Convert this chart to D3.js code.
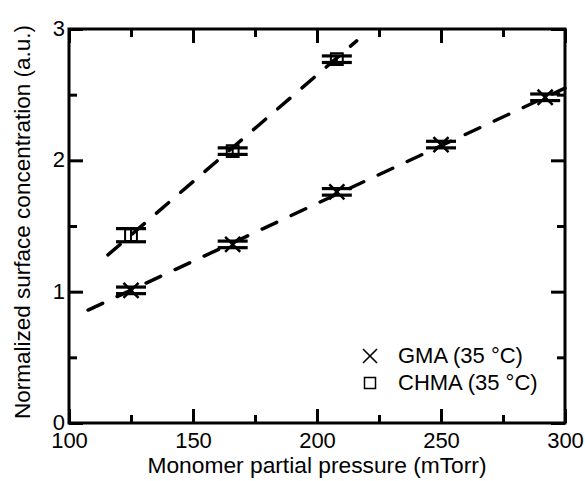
<!DOCTYPE html>
<html>
<head>
<meta charset="utf-8">
<script src="https://cdn.jsdelivr.net/npm/d3@7"></script>
<style>
  body { margin: 0; background: #fff; }
  text { font-family: "Liberation Sans", Arial, Helvetica, sans-serif; fill: #000; }
</style>
</head>
<body>
<svg id="chart" width="585" height="481"></svg>
<script>
// data
var gmaPressure = [125, 166, 208, 250, 292];
var gmaConc = [1.01, 1.36, 1.76, 2.12, 2.48];
var gmaErr = [0.025, 0.025, 0.025, 0.025, 0.025];

var chmaPressure = [125, 166, 208];
var chmaConc = [1.43, 2.07, 2.77];
var chmaErr = [0.05, 0.025, 0.025];

// dashed fit lines (end points)
var gmaFit = [[107.7, 0.86], [300, 2.55]];
var chmaFit = [[115.7, 1.28], [216, 2.91]];

var xMajor = [100, 150, 200, 250, 300];
var xMinor = [125, 175, 225, 275];
var yMajor = [0, 1, 2, 3];
var yMinor = [0.5, 1.5, 2.5];

var legendLabels = ["GMA (35 \u00B0C)", "CHMA (35 \u00B0C)"];

var svg = d3.select('#chart');
var plot = { left: 69, right: 565, top: 29, bottom: 423 };

var x = d3.scaleLinear().domain([100, 300]).range([plot.left, plot.right]);
var y = d3.scaleLinear().domain([0, 3]).range([plot.bottom, plot.top]);

// ticks, inward on all four sides
function tickAxis(axisFn, scale, values, size, tx, ty, labels, pad) {
    var g = svg.append('g')
        .attr('transform', 'translate(' + tx + ',' + ty + ')')
        .call(axisFn(scale).tickValues(values).tickSize(size).tickPadding(pad || 10)
            .tickFormat(labels ? d3.format('d') : ''));
    g.select('.domain').remove();
    g.selectAll('.tick line').attr('stroke', '#000').attr('stroke-width', 3);
    g.selectAll('.tick text').style('font-size', '22px');
    return g;
}

tickAxis(d3.axisBottom, x, xMajor, -14, 0, plot.bottom, true, 9);
tickAxis(d3.axisBottom, x, xMinor, -8, 0, plot.bottom, false);
tickAxis(d3.axisTop, x, xMajor, -14, 0, plot.top, false);
tickAxis(d3.axisTop, x, xMinor, -8, 0, plot.top, false);
var yAx = tickAxis(d3.axisLeft, y, yMajor, -14, plot.left, 0, true, 4);
yAx.selectAll('.tick text').attr('dy', '0.3em');
tickAxis(d3.axisLeft, y, yMinor, -8, plot.left, 0, false);
tickAxis(d3.axisRight, y, yMajor, -14, plot.right, 0, false);
tickAxis(d3.axisRight, y, yMinor, -8, plot.right, 0, false);

svg.append('rect')
    .attr('x', plot.left).attr('y', plot.top)
    .attr('width', plot.right - plot.left).attr('height', plot.bottom - plot.top)
    .attr('fill', 'none').attr('stroke', '#000').attr('stroke-width', 3);

// fit lines
var line = d3.line().x((d) => x(d[0])).y((d) => y(d[1]));
[gmaFit, chmaFit].forEach(function(f) {
    svg.append('path')
        .attr('d', line(f))
        .attr('fill', 'none')
        .attr('stroke', '#000')
        .attr('stroke-width', 3.5)
        .attr('stroke-linecap', 'round')
        .attr('stroke-dasharray', '16,16');
});

function errorBars(px, py, pe) {
    var pts = px.map((d, i) => ({ x: d, y: py[i], e: pe[i] }));
    var g = svg.append('g');
    g.selectAll('line.v').data(pts).enter().append('line')
        .attr('x1', (d) => x(d.x)).attr('x2', (d) => x(d.x))
        .attr('y1', (d) => y(d.y - d.e)).attr('y2', (d) => y(d.y + d.e))
        .attr('stroke', '#000').attr('stroke-width', 2);
    g.selectAll('line.cap').data(pts.flatMap((d) => [d.y - d.e, d.y + d.e].map((v) => ({ x: d.x, v: v }))))
        .enter().append('line')
        .attr('x1', (d) => x(d.x) - 15).attr('x2', (d) => x(d.x) + 15)
        .attr('y1', (d) => y(d.v)).attr('y2', (d) => y(d.v))
        .attr('stroke', '#000').attr('stroke-width', 3.2);
    return pts;
}

var gmaPts = errorBars(gmaPressure, gmaConc, gmaErr);
var chmaPts = errorBars(chmaPressure, chmaConc, chmaErr);

var cross = d3.symbol().type(d3.symbolTimes).size(150);
var square = d3.symbol().type(d3.symbolSquare).size(140);

svg.append('g').selectAll('path').data(gmaPts).enter().append('path')
    .attr('d', cross)
    .attr('transform', (d) => 'translate(' + x(d.x) + ',' + y(d.y) + ')')
    .attr('fill', 'none').attr('stroke', '#000').attr('stroke-width', 2.5);

svg.append('g').selectAll('path').data(chmaPts).enter().append('path')
    .attr('d', square)
    .attr('transform', (d) => 'translate(' + x(d.x) + ',' + y(d.y) + ')')
    .attr('fill', 'none').attr('stroke', '#000').attr('stroke-width', 2);

// legend
var legend = svg.append('g');
legend.append('path')
    .attr('d', d3.symbol().type(d3.symbolTimes).size(130))
    .attr('transform', 'translate(370,356)')
    .attr('fill', 'none').attr('stroke', '#000').attr('stroke-width', 1.6);
legend.append('rect')
    .attr('x', 364.5).attr('y', 377.5).attr('width', 11).attr('height', 11)
    .attr('fill', 'none').attr('stroke', '#000').attr('stroke-width', 1.5);
legend.selectAll('text').data(legendLabels).enter().append('text')
    .attr('x', 398)
    .attr('y', (d, i) => 363 + i * 27)
    .style('font-size', '22px')
    .text((d) => d);

// axis titles
svg.append('text')
    .attr('x', (plot.left + plot.right) / 2)
    .attr('y', 473)
    .attr('text-anchor', 'middle')
    .attr('textLength', 339)
    .attr('lengthAdjust', 'spacingAndGlyphs')
    .style('font-size', '22px')
    .text('Monomer partial pressure (mTorr)');

svg.append('text')
    .attr('transform', 'translate(30,' + ((plot.top + plot.bottom) / 2 - 4) + ') rotate(-90)')
    .attr('text-anchor', 'middle')
    .attr('textLength', 394)
    .attr('lengthAdjust', 'spacingAndGlyphs')
    .style('font-size', '22px')
    .text('Normalized surface concentration (a.u.)');
</script>
</body>
</html>
